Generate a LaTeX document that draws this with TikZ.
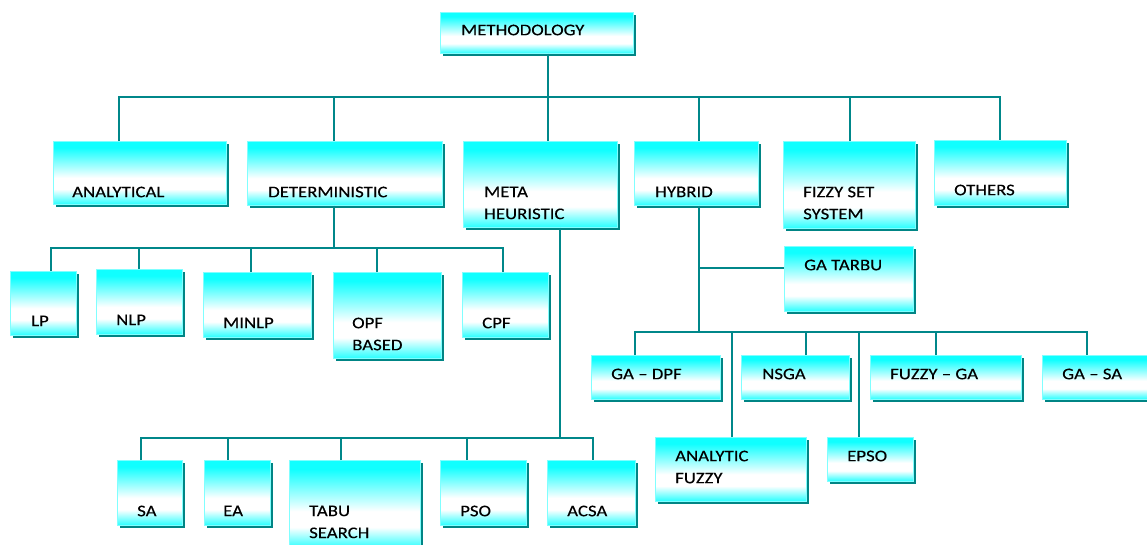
\documentclass[tikz,border=0pt]{standalone}
\usepackage{fontspec}
\setmainfont[FakeStretch=1.16,FakeBold=0.3]{Carlito}
\usetikzlibrary{shadows,calc}
\definecolor{ctop}{HTML}{10FFFF}
\definecolor{cbot}{HTML}{28FFFF}
\definecolor{tealline}{HTML}{00878A}
\definecolor{shadowc}{HTML}{008585}
\definecolor{boxedge}{HTML}{80FFFF}
\pgfdeclareverticalshading{boxshade}{100bp}{color(0bp)=(cbot); color(25bp)=(cbot); color(37bp)=(white); color(46bp)=(white); color(70bp)=(ctop); color(100bp)=(ctop)}
\tikzset{
 box/.style={rectangle, inner sep=0pt, anchor=north west, draw=boxedge, line width=0.6pt, shade, shading=boxshade,
   drop shadow={shadow xshift=3pt, shadow yshift=-3pt, fill=shadowc, opacity=1}},
 lbl/.style={anchor=north west, inner sep=0pt, align=left, text=black, font=\fontsize{16.2}{22}\selectfont},
 conn/.style={draw=tealline, line width=2pt},
}
\newcommand\mybox[5]{\node[box, minimum width={#4-#2}, minimum height={#5-#3}] (#1) at (#2,#3) {};}
\newcommand\mylabel[4]{\node[lbl] (#1) at (#2,#3) {#4};}
\begin{document}
\begin{tikzpicture}[x=1pt,y=-1pt]
\useasboundingbox (0,0) rectangle (1147,544);
% ---------- boxes ----------
\mybox{meth}{440}{12}{633}{53}
\mybox{analytical}{53}{141}{226}{204}
\mybox{determ}{247}{141}{442}{205}
\mybox{meta}{463}{141}{617}{227}
\mybox{hybrid}{634}{141}{758}{205}
\mybox{fizzy}{783}{141}{915}{228}
\mybox{others}{934}{140}{1066}{205}
\mybox{lp}{10}{271}{76}{335}
\mybox{nlp}{96}{269}{182}{334}
\mybox{minlp}{203}{272}{311}{337}
\mybox{opf}{333}{272}{441}{358}
\mybox{cpf}{462}{272}{548}{337}
\mybox{gatarbu}{784}{246}{913}{311}
\mybox{gadpf}{591}{355}{720}{399}
\mybox{nsga}{741}{355}{849}{399}
\mybox{fuzzyga}{870}{355}{1021}{399}
\mybox{gasa}{1042}{355}{1150}{399}
\mybox{anfuzzy}{655}{437}{806}{501}
\mybox{epso}{827}{437}{913}{481}
\mybox{sa}{117}{460}{182}{525}
\mybox{ea}{204}{460}{270}{525}
\mybox{tabu}{289}{460}{420}{548}
\mybox{pso}{440}{460}{526}{525}
\mybox{acsa}{547}{460}{635}{525}
% ---------- labels ----------
\mylabel{meth-t}{461}{24.5}{METHODOLOGY}
\mylabel{analytical-t}{72}{186.5}{ANALYTICAL}
\mylabel{determ-t}{268}{186.5}{DETERMINISTIC}
\mylabel{meta-t}{484}{186.5}{META\\HEURISTIC}
\mylabel{hybrid-t}{655}{186.5}{HYBRID}
\mylabel{fizzy-t}{803}{186.5}{FIZZY SET\\SYSTEM}
\mylabel{others-t}{954}{184.5}{OTHERS}
\mylabel{lp-t}{31}{315.5}{LP}
\mylabel{nlp-t}{116}{314.5}{NLP}
\mylabel{minlp-t}{223}{317.5}{MINLP}
\mylabel{opf-t}{352}{317.5}{OPF\\BASED}
\mylabel{cpf-t}{482}{317.5}{CPF}
\mylabel{gatarbu-t}{804}{259.5}{GA TARBU}
\mylabel{gadpf-t}{611}{368.5}{GA – DPF}
\mylabel{nsga-t}{762}{368.5}{NSGA}
\mylabel{fuzzyga-t}{890}{368.5}{FUZZY – GA}
\mylabel{gasa-t}{1062}{368.5}{GA – SA}
\mylabel{anfuzzy-t}{675}{450.5}{ANALYTIC\\FUZZY}
\mylabel{epso-t}{847}{450.5}{EPSO}
\mylabel{sa-t}{137}{505.5}{SA}
\mylabel{ea-t}{223}{505.5}{EA}
\mylabel{tabu-t}{309}{505.5}{TABU\\SEARCH}
\mylabel{pso-t}{460}{505.5}{PSO}
\mylabel{acsa-t}{567}{505.5}{ACSA}
% ---------- connectors ----------
% level 1
\draw[conn] ([xshift=11.5pt]meth.south) -- ++(0,44);
\draw[conn] ([xshift=-20.5pt]analytical.north) |- ([yshift=43pt]others.north) -- (others.north);
\draw[conn] ([xshift=-10.5pt]determ.north) -- ++(0,-44);
\draw[conn] ([xshift=8pt]meta.north) -- ++(0,-44);
\draw[conn] ([xshift=3pt]hybrid.north) -- ++(0,-44);
\draw[conn] ([xshift=1pt]fizzy.north) -- ++(0,-44);
% deterministic
\draw[conn] ([xshift=-10.5pt]determ.south) -- ++(0,43);
\draw[conn] ([xshift=8pt]lp.north) |- ([xshift=-2pt,yshift=24pt]cpf.north) -- ([xshift=-2pt]cpf.north);
\draw[conn] (nlp.north) -- ++(0,-21);
\draw[conn] ([xshift=-6pt]minlp.north) -- ++(0,-24);
\draw[conn] ([xshift=-10pt]opf.north) -- ++(0,-24);
% meta heuristic
\draw[conn] ([xshift=20pt]meta.south) -- ++(0,211);
\draw[conn] ([xshift=-8.5pt]sa.north) |- ([xshift=2pt,yshift=22pt]acsa.north) -- ([xshift=2pt]acsa.north);
\draw[conn] ([xshift=-9pt]ea.north) -- ++(0,-22);
\draw[conn] ([xshift=-13.5pt]tabu.north) -- ++(0,-22);
\draw[conn] ([xshift=-16pt]pso.north) -- ++(0,-22);
% hybrid
\draw[conn] ([xshift=3pt]hybrid.south) -- ++(0,127);
\draw[conn] ([yshift=10.5pt]gatarbu.west) -- ++(-85,0);
\draw[conn] ([xshift=-20.5pt]gadpf.north) |- ([xshift=-9pt,yshift=23pt]gasa.north) -- ([xshift=-9pt]gasa.north);
\draw[conn] ([xshift=1.5pt]anfuzzy.north) -- ++(0,-105);
\draw[conn] ([xshift=11pt]nsga.north) -- ++(0,-23);
\draw[conn] ([xshift=-11pt]epso.north) -- ++(0,-105);
\draw[conn] ([xshift=-9.5pt]fuzzyga.north) -- ++(0,-23);
\end{tikzpicture}
\end{document}
